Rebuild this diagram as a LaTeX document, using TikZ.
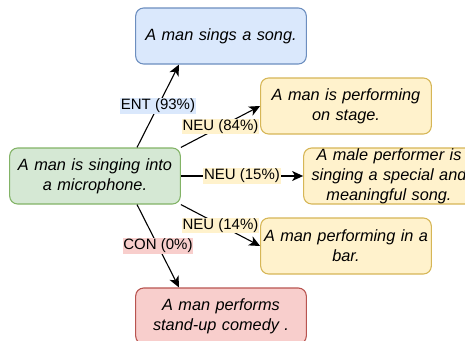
\documentclass[tikz,border=0pt]{standalone}
\usepackage{fontspec}
\setmainfont{Liberation Sans}
\usetikzlibrary{arrows.meta}

\definecolor{entfill}{HTML}{DAE8FC}
\definecolor{entline}{HTML}{6C8EBF}
\definecolor{premfill}{HTML}{D5E8D4}
\definecolor{premline}{HTML}{82B366}
\definecolor{neufill}{HTML}{FFF2CC}
\definecolor{neuline}{HTML}{D6B656}
\definecolor{confill}{HTML}{F8CECC}
\definecolor{conline}{HTML}{B85450}

\begin{document}
\begin{tikzpicture}[x=1pt,y=-1pt,
  box/.style={draw, rounded corners=8pt, line width=1.1pt, minimum width=168pt, minimum height=56pt,
    text width=164pt, align=center, font=\fontsize{16.3}{20}\selectfont\itshape},
  lbl/.style={font=\fontsize{15}{18}\selectfont, inner sep=0.6pt},
  arr/.style={-{Stealth[length=11pt,width=10pt,inset=3pt]}, line width=1.1pt}]

\useasboundingbox (0,0) rectangle (465,340);

\node [box, fill=premfill, draw=premline] (prem) at (95,176) {A man is singing into\\ a microphone.};
\node [box, fill=entfill, draw=entline] (ent) at (221,36) {A man sings a song.};
\node [box, fill=neufill, draw=neuline] (neua) at (346,106) {A man is performing\\ on stage.};
\node [box, fill=neufill, draw=neuline, inner ysep=0pt] (neub) at (389,176) {A male performer is\\ singing a special and\\ meaningful song.};
\node [box, fill=neufill, draw=neuline] (neuc) at (346,246) {A man performing in a\\ bar.};
\node [box, fill=confill, draw=conline] (con) at (221,316) {A man performs\\ stand-up comedy .};

\draw [arr] ([xshift=42pt]prem.north) -- node [lbl, fill=entfill] {ENT (93\%)} ([xshift=-42pt]ent.south);
\draw [arr] (prem.north east) -- node [lbl, fill=neufill] {NEU (84\%)} (neua.west);
\draw [arr] (prem.east) -- node [lbl, fill=neufill] {NEU (15\%)} (neub.west);
\draw [arr] (prem.south east) -- node [lbl, fill=neufill] {NEU (14\%)} (neuc.west);
\draw [arr] ([xshift=42pt]prem.south) -- node [lbl, fill=confill] {CON (0\%)} ([xshift=-42pt]con.north);
\end{tikzpicture}
\end{document}
